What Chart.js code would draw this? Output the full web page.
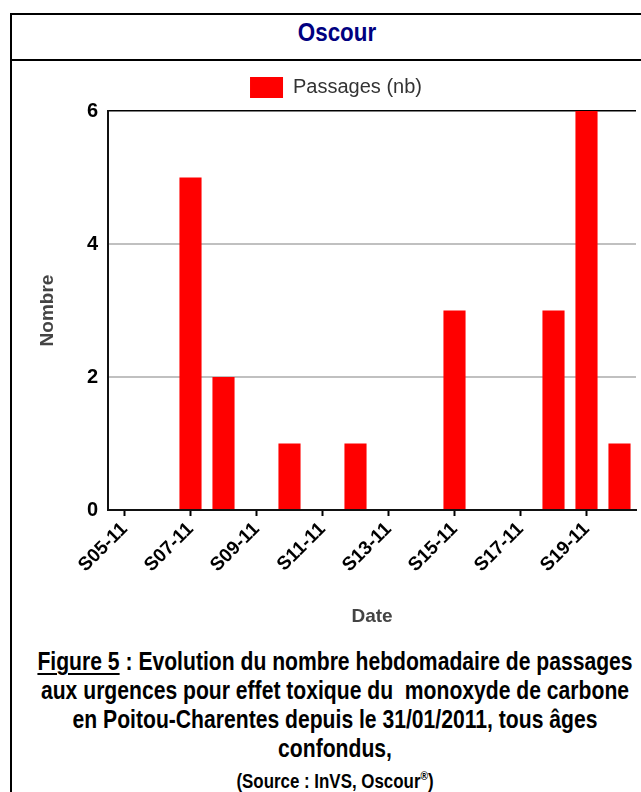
<!DOCTYPE html>
<html>
<head>
<meta charset="utf-8">
<script src="https://cdn.jsdelivr.net/npm/chart.js@4"></script>
<style>
  html, body { margin: 0; padding: 0; background: #fff; }
  body { width: 641px; height: 792px; overflow: hidden; position: relative; }
  .frame {
    position: absolute; left: 10px; top: 13px; width: 660px; height: 820px;
    border: 2px solid #000; box-sizing: border-box;
  }
  .divider { position: absolute; left: 10px; top: 59px; width: 640px; height: 2px; background: #000; }
  .title {
    position: absolute; left: 137px; top: 15px; width: 400px;
    font-family: "Liberation Sans", Arial, sans-serif;
    font-weight: bold; font-size: 26px; color: #000080;
    text-align: center; line-height: 34px;
    transform: scaleX(0.86); transform-origin: center;
  }
  .chart-box { position: absolute; left: 12px; top: 62px; width: 651px; height: 570px; }
  .caption {
    position: absolute; left: -65px; top: 647px; width: 800px; text-align: center;
    white-space: nowrap;
    font-family: "Liberation Sans", Arial, sans-serif;
    font-weight: bold; font-size: 25px; line-height: 28.9px; color: #000;
    transform: scaleX(0.845); transform-origin: center;
  }
  .caption u { text-decoration-thickness: 2px; text-underline-offset: 3px; }
  .source { font-size: 20px; line-height: 26px; display: inline-block; }
  .source sup { font-size: 12px; }
</style>
</head>
<body>
<div class="frame"></div>
<div class="divider"></div>
<div class="title">Oscour</div>
<div class="chart-box"><canvas id="myChart"></canvas></div>
<div class="caption">
  <u>Figure 5</u> : Evolution du nombre hebdomadaire de passages<br>
  aux urgences pour effet toxique du&nbsp; monoxyde de carbone<br>
  en Poitou-Charentes depuis le 31/01/2011, tous âges<br>
  confondus,<br>
  <span class="source">(Source : InVS, Oscour<sup>®</sup>)</span>
</div>
<script>
const weeks = [
  "S05-11", "S06-11", "S07-11", "S08-11", "S09-11", "S10-11", "S11-11", "S12-11",
  "S13-11", "S14-11", "S15-11", "S16-11", "S17-11", "S18-11", "S19-11", "S20-11",
];
const passages = [0, 0, 5, 2, 0, 1, 0, 1, 0, 0, 3, 0, 0, 3, 6, 1];
const yTicks = [0, 2, 4, 6];

// a little more room under the legend
const legendGap = {
  id: "legendGap",
  beforeInit(chart) {
    const fit = chart.legend.fit;
    chart.legend.fit = function () {
      fit.bind(chart.legend)();
      this.height += 3;
    };
  },
};

const ctx = document.getElementById("myChart").getContext("2d");

new Chart(ctx, {
  type: "bar",
  data: {
    labels: weeks,
    datasets: [
      {
        label: "Passages (nb)",
        data: passages,
        backgroundColor: "#ff0000",
        categoryPercentage: 1,
        barPercentage: 0.67,
      },
    ],
  },
  options: {
    responsive: true,
    maintainAspectRatio: false,
    animation: false,
    layout: { padding: { top: 5, right: 27, bottom: 4, left: 24 } },
    scales: {
      y: {
        min: 0,
        max: 6,
        afterFit: (scale) => { scale.width = 72; },
        afterBuildTicks: (scale) => { scale.ticks = yTicks.map((v) => ({ value: v })); },
        border: { color: "#111", width: 2 },
        grid: {
          color: (c) => (c.tick.value === 6 ? "#000" : c.tick.value === 0 ? "rgba(0,0,0,0)" : "#c0c0c0"),
          lineWidth: (c) => (c.tick.value === 6 ? 1.5 : 2),
          drawTicks: false,
        },
        ticks: {
          padding: 10,
          color: "#000",
          font: { family: "'Liberation Sans', Arial", size: 20, weight: "bold" },
        },
        title: {
          display: true,
          text: "Nombre",
          color: "#444",
          padding: { top: 0, bottom: 0 },
          font: { family: "'Liberation Sans', Arial", size: 19, weight: "bold" },
        },
      },
      x: {
        afterFit: (scale) => { scale.height = 118; },
        border: { color: "#111", width: 2 },
        grid: {
          offset: false,
          drawOnChartArea: false,
          tickLength: 6,
          tickColor: (c) => (c.index % 2 === 0 ? "#000" : "rgba(0,0,0,0)"),
          tickWidth: 2,
        },
        ticks: {
          autoSkip: false,
          maxRotation: 45,
          minRotation: 45,
          padding: 2,
          color: "#000",
          font: { family: "'Liberation Sans', Arial", size: 19, weight: "bold" },
          callback: function (value, index) {
            return index % 2 === 0 ? this.getLabelForValue(value) : "";
          },
        },
        title: {
          display: true,
          text: "Date",
          color: "#444",
          padding: { top: 0, bottom: 0 },
          font: { family: "'Liberation Sans', Arial", size: 19, weight: "bold" },
        },
      },
    },
    plugins: {
      legend: {
        display: true,
        position: "top",
        labels: {
          boxWidth: 33,
          boxHeight: 21,
          padding: 10,
          color: "#333",
          font: { family: "'Liberation Sans', Arial", size: 20 },
        },
      },
      tooltip: { enabled: false },
    },
  },
  plugins: [legendGap],
});
</script>
</body>
</html>
